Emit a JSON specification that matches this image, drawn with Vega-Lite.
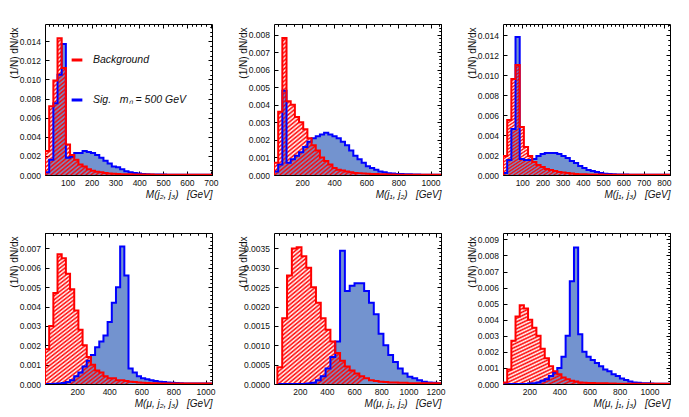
{
"$schema":"https://vega.github.io/schema/vega-lite/v6.json",
"background":"white",
"padding":{"left":8,"top":23,"right":0,"bottom":0},
"bounds":"flush",
"columns":3,
"spacing":{"row":58,"column":62},
"resolve":{"scale":{"stroke":"independent"}},
"config":{
 "view":{"stroke":"#000","strokeWidth":1},
 "font":"Liberation Sans",
 "axis":{"domain":false,"grid":false,"ticks":true,"tickColor":"#000","tickWidth":1,"tickSize":-4,"labelFont":"Liberation Sans","labelFontSize":8.5,"labelColor":"#111","labelFlush":false,"labelOverlap":false,"titleFont":"Liberation Sans","titleFontSize":10,"titleFontWeight":"normal","titleColor":"#111","zindex":1},
 "axisX":{"labelPadding":7.5,"titlePadding":2,"titleAnchor":"end","titleFontStyle":"italic"},
 "axisY":{"labelPadding":8.5,"titleAnchor":"end","titleX":-26,"titleY":3,"titleAngle":270,"titleAlign":"right","titleBaseline":"bottom"},
 "legend":{"labelFont":"Liberation Sans","labelFontStyle":"italic","labelFontSize":10.5,"labelColor":"#111","symbolType":"stroke","symbolStrokeWidth":3,"symbolSize":115,"rowPadding":27,"labelOffset":9,"padding":0},
 "area":{"fill":{"gradient":"linear","x1":0,"y1":0,"x2":0.75,"y2":0.75,"stops":[{"offset":0,"color":"rgba(255,0,0,0)"},{"offset":0.01,"color":"#ff0000"},{"offset":0.02,"color":"rgba(255,0,0,0)"},{"offset":0.03,"color":"#ff0000"},{"offset":0.04,"color":"rgba(255,0,0,0)"},{"offset":0.05,"color":"#ff0000"},{"offset":0.06,"color":"rgba(255,0,0,0)"},{"offset":0.07,"color":"#ff0000"},{"offset":0.08,"color":"rgba(255,0,0,0)"},{"offset":0.09,"color":"#ff0000"},{"offset":0.1,"color":"rgba(255,0,0,0)"},{"offset":0.11,"color":"#ff0000"},{"offset":0.12,"color":"rgba(255,0,0,0)"},{"offset":0.13,"color":"#ff0000"},{"offset":0.14,"color":"rgba(255,0,0,0)"},{"offset":0.15,"color":"#ff0000"},{"offset":0.16,"color":"rgba(255,0,0,0)"},{"offset":0.17,"color":"#ff0000"},{"offset":0.18,"color":"rgba(255,0,0,0)"},{"offset":0.19,"color":"#ff0000"},{"offset":0.2,"color":"rgba(255,0,0,0)"},{"offset":0.21,"color":"#ff0000"},{"offset":0.22,"color":"rgba(255,0,0,0)"},{"offset":0.23,"color":"#ff0000"},{"offset":0.24,"color":"rgba(255,0,0,0)"},{"offset":0.25,"color":"#ff0000"},{"offset":0.26,"color":"rgba(255,0,0,0)"},{"offset":0.27,"color":"#ff0000"},{"offset":0.28,"color":"rgba(255,0,0,0)"},{"offset":0.29,"color":"#ff0000"},{"offset":0.3,"color":"rgba(255,0,0,0)"},{"offset":0.31,"color":"#ff0000"},{"offset":0.32,"color":"rgba(255,0,0,0)"},{"offset":0.33,"color":"#ff0000"},{"offset":0.34,"color":"rgba(255,0,0,0)"},{"offset":0.35,"color":"#ff0000"},{"offset":0.36,"color":"rgba(255,0,0,0)"},{"offset":0.37,"color":"#ff0000"},{"offset":0.38,"color":"rgba(255,0,0,0)"},{"offset":0.39,"color":"#ff0000"},{"offset":0.4,"color":"rgba(255,0,0,0)"},{"offset":0.41,"color":"#ff0000"},{"offset":0.42,"color":"rgba(255,0,0,0)"},{"offset":0.43,"color":"#ff0000"},{"offset":0.44,"color":"rgba(255,0,0,0)"},{"offset":0.45,"color":"#ff0000"},{"offset":0.46,"color":"rgba(255,0,0,0)"},{"offset":0.47,"color":"#ff0000"},{"offset":0.48,"color":"rgba(255,0,0,0)"},{"offset":0.49,"color":"#ff0000"},{"offset":0.5,"color":"rgba(255,0,0,0)"},{"offset":0.51,"color":"#ff0000"},{"offset":0.52,"color":"rgba(255,0,0,0)"},{"offset":0.53,"color":"#ff0000"},{"offset":0.54,"color":"rgba(255,0,0,0)"},{"offset":0.55,"color":"#ff0000"},{"offset":0.56,"color":"rgba(255,0,0,0)"},{"offset":0.57,"color":"#ff0000"},{"offset":0.58,"color":"rgba(255,0,0,0)"},{"offset":0.59,"color":"#ff0000"},{"offset":0.6,"color":"rgba(255,0,0,0)"},{"offset":0.61,"color":"#ff0000"},{"offset":0.62,"color":"rgba(255,0,0,0)"},{"offset":0.63,"color":"#ff0000"},{"offset":0.64,"color":"rgba(255,0,0,0)"},{"offset":0.65,"color":"#ff0000"},{"offset":0.66,"color":"rgba(255,0,0,0)"},{"offset":0.67,"color":"#ff0000"},{"offset":0.68,"color":"rgba(255,0,0,0)"},{"offset":0.69,"color":"#ff0000"},{"offset":0.7,"color":"rgba(255,0,0,0)"},{"offset":0.71,"color":"#ff0000"},{"offset":0.72,"color":"rgba(255,0,0,0)"},{"offset":0.73,"color":"#ff0000"},{"offset":0.74,"color":"rgba(255,0,0,0)"},{"offset":0.75,"color":"#ff0000"},{"offset":0.76,"color":"rgba(255,0,0,0)"},{"offset":0.77,"color":"#ff0000"},{"offset":0.78,"color":"rgba(255,0,0,0)"},{"offset":0.79,"color":"#ff0000"},{"offset":0.8,"color":"rgba(255,0,0,0)"},{"offset":0.81,"color":"#ff0000"},{"offset":0.82,"color":"rgba(255,0,0,0)"},{"offset":0.83,"color":"#ff0000"},{"offset":0.84,"color":"rgba(255,0,0,0)"},{"offset":0.85,"color":"#ff0000"},{"offset":0.86,"color":"rgba(255,0,0,0)"},{"offset":0.87,"color":"#ff0000"},{"offset":0.88,"color":"rgba(255,0,0,0)"},{"offset":0.89,"color":"#ff0000"},{"offset":0.9,"color":"rgba(255,0,0,0)"},{"offset":0.91,"color":"#ff0000"},{"offset":0.92,"color":"rgba(255,0,0,0)"},{"offset":0.93,"color":"#ff0000"},{"offset":0.94,"color":"rgba(255,0,0,0)"},{"offset":0.95,"color":"#ff0000"},{"offset":0.96,"color":"rgba(255,0,0,0)"},{"offset":0.97,"color":"#ff0000"},{"offset":0.98,"color":"rgba(255,0,0,0)"},{"offset":0.99,"color":"#ff0000"},{"offset":1,"color":"rgba(255,0,0,0)"}]}}
},
"concat":[
{
 "width":167,"height":151,
 "data":{"values":[
{"i":0,"m":5,"bkg":0,"sig":0},
{"i":1,"m":5,"bkg":0.0025,"sig":0.0003},
{"i":2,"m":22.5,"bkg":0.0072,"sig":0.0016},
{"i":3,"m":40,"bkg":0.0099,"sig":0.0075},
{"i":4,"m":57.5,"bkg":0.0143,"sig":0.0105},
{"i":5,"m":75,"bkg":0.0112,"sig":0.0137},
{"i":6,"m":92.5,"bkg":0.0032,"sig":0.0018},
{"i":7,"m":110,"bkg":0.0021,"sig":0.0019},
{"i":8,"m":127.5,"bkg":0.0016,"sig":0.0023},
{"i":9,"m":145,"bkg":0.0011,"sig":0.0023},
{"i":10,"m":162.5,"bkg":0.0009,"sig":0.0025},
{"i":11,"m":180,"bkg":0.0006,"sig":0.0024},
{"i":12,"m":197.5,"bkg":0.00045,"sig":0.0023},
{"i":13,"m":215,"bkg":0.00035,"sig":0.0021},
{"i":14,"m":232.5,"bkg":0.00028,"sig":0.0018},
{"i":15,"m":250,"bkg":0.0002,"sig":0.0015},
{"i":16,"m":267.5,"bkg":0.00016,"sig":0.0012},
{"i":17,"m":285,"bkg":0.00013,"sig":0.0009},
{"i":18,"m":302.5,"bkg":0.0001,"sig":0.0008},
{"i":19,"m":320,"bkg":0.00009,"sig":0.0006},
{"i":20,"m":337.5,"bkg":0.00008,"sig":0.0004},
{"i":21,"m":355,"bkg":0.00007,"sig":0.0003},
{"i":22,"m":372.5,"bkg":0.00006,"sig":0.0002},
{"i":23,"m":390,"bkg":0.00005,"sig":0.00015},
{"i":24,"m":407.5,"bkg":0.00005,"sig":0.0001},
{"i":25,"m":425,"bkg":0.00004,"sig":0.00008},
{"i":26,"m":442.5,"bkg":0.00004,"sig":0.00006},
{"i":27,"m":460,"bkg":0.00003,"sig":0.00005},
{"i":28,"m":477.5,"bkg":0.00003,"sig":0.00004},
{"i":29,"m":495,"bkg":0.00003,"sig":0.00004},
{"i":30,"m":512.5,"bkg":0.00002,"sig":0.00003},
{"i":31,"m":530,"bkg":0.00002,"sig":0.00002},
{"i":32,"m":547.5,"bkg":0.00002,"sig":0.00002},
{"i":33,"m":565,"bkg":0.00002,"sig":0.00002},
{"i":34,"m":582.5,"bkg":0.00002,"sig":0.00002},
{"i":35,"m":600,"bkg":0.00002,"sig":0.00002},
{"i":36,"m":617.5,"bkg":0.00002,"sig":0.00002},
{"i":37,"m":635,"bkg":0.00002,"sig":0.00002},
{"i":38,"m":652.5,"bkg":0.00002,"sig":0.00002},
{"i":39,"m":670,"bkg":0.00002,"sig":0.00002},
{"i":40,"m":687.5,"bkg":0.00002,"sig":0.00002},
{"i":41,"m":705,"bkg":0,"sig":0}]},
 "resolve":{"axis":{"x":"independent","y":"independent"}},
 "layer":[
  {"transform":[{"filter":"datum.i > 0"}],
   "mark":{"type":"area","interpolate":"step-after","fill":"#7393cf","clip":true},
   "encoding":{
    "x":{"field":"m","type":"quantitative","scale":{"domain":[5,705],"nice":false,"zero":false},"axis":{"values":[100,200,300,400,500,600,700],"format":"d","title":"M(j₂, j₃)\u00a0\u00a0\u00a0[GeV]"}},
    "y":{"field":"sig","type":"quantitative","stack":null,"scale":{"domain":[0,0.0158],"nice":false},"axis":{"values":[0,0.002,0.004,0.006,0.008,0.01,0.012,0.014],"format":".3f","title":"(1/N) dN/dx"}}}},
  {"transform":[{"filter":"datum.i > 0"}],
   "mark":{"type":"area","interpolate":"step-after","clip":true},
   "encoding":{
    "x":{"field":"m","type":"quantitative","scale":{"domain":[5,705],"nice":false,"zero":false},"axis":{"tickCount":35,"tickSize":-2,"labels":false,"title":null}},
    "y":{"field":"bkg","type":"quantitative","stack":null,"scale":{"domain":[0,0.0158],"nice":false},"axis":{"tickCount":32,"tickSize":-2,"labels":false,"title":null}}}},
  {"mark":{"type":"line","interpolate":"step-after","strokeWidth":2,"clip":true},
   "encoding":{
    "x":{"field":"m","type":"quantitative","scale":{"domain":[5,705],"nice":false,"zero":false},"axis":{"orient":"top","values":[100,200,300,400,500,600,700],"labels":false,"title":null}},
    "y":{"field":"sig","type":"quantitative","scale":{"domain":[0,0.0158],"nice":false},"axis":{"orient":"right","values":[0,0.002,0.004,0.006,0.008,0.01,0.012,0.014],"labels":false,"title":null}},
    "order":{"field":"i","type":"quantitative"},
    "stroke":{"datum":"Sig.\u00a0\u00a0\u00a0mₙ = 500\u00a0GeV","type":"nominal","scale":{"domain":["Background","Sig.\u00a0\u00a0\u00a0mₙ = 500\u00a0GeV"],"range":["#ff0000","#0000ff"]},"legend":{"title":null,"orient":"none","legendX":25,"legendY":29,"direction":"vertical"}}}},
  {"mark":{"type":"line","interpolate":"step-after","strokeWidth":2,"clip":true},
   "encoding":{
    "x":{"field":"m","type":"quantitative","scale":{"domain":[5,705],"nice":false,"zero":false},"axis":{"orient":"top","tickCount":35,"tickSize":-2,"labels":false,"title":null}},
    "y":{"field":"bkg","type":"quantitative","scale":{"domain":[0,0.0158],"nice":false},"axis":{"orient":"right","tickCount":32,"tickSize":-2,"labels":false,"title":null}},
    "order":{"field":"i","type":"quantitative"},
    "stroke":{"datum":"Background","type":"nominal","legend":{"title":null,"orient":"none","legendX":25,"legendY":29,"direction":"vertical"}}}}
 ]
},
{
 "width":167,"height":151,
 "data":{"values":[
{"i":0,"m":25,"bkg":0,"sig":0},
{"i":1,"m":25,"bkg":0.0007,"sig":0.0002},
{"i":2,"m":51,"bkg":0.0036,"sig":0.0006},
{"i":3,"m":77,"bkg":0.0078,"sig":0.0048},
{"i":4,"m":103,"bkg":0.0042,"sig":0.0007},
{"i":5,"m":129,"bkg":0.0040,"sig":0.0009},
{"i":6,"m":155,"bkg":0.0033,"sig":0.0011},
{"i":7,"m":181,"bkg":0.0030,"sig":0.0013},
{"i":8,"m":207,"bkg":0.0026,"sig":0.0016},
{"i":9,"m":233,"bkg":0.0021,"sig":0.0019},
{"i":10,"m":259,"bkg":0.0017,"sig":0.0021},
{"i":11,"m":285,"bkg":0.0014,"sig":0.0022},
{"i":12,"m":311,"bkg":0.0010,"sig":0.0023},
{"i":13,"m":337,"bkg":0.0008,"sig":0.0024},
{"i":14,"m":363,"bkg":0.0006,"sig":0.0023},
{"i":15,"m":389,"bkg":0.0004,"sig":0.0022},
{"i":16,"m":415,"bkg":0.0003,"sig":0.0021},
{"i":17,"m":441,"bkg":0.00025,"sig":0.0019},
{"i":18,"m":467,"bkg":0.0002,"sig":0.0017},
{"i":19,"m":493,"bkg":0.00015,"sig":0.0014},
{"i":20,"m":519,"bkg":0.00012,"sig":0.0011},
{"i":21,"m":545,"bkg":0.0001,"sig":0.0009},
{"i":22,"m":571,"bkg":0.00008,"sig":0.0007},
{"i":23,"m":597,"bkg":0.00007,"sig":0.0005},
{"i":24,"m":623,"bkg":0.00006,"sig":0.0004},
{"i":25,"m":649,"bkg":0.00005,"sig":0.0003},
{"i":26,"m":675,"bkg":0.00004,"sig":0.0002},
{"i":27,"m":701,"bkg":0.00004,"sig":0.00015},
{"i":28,"m":727,"bkg":0.00003,"sig":0.0001},
{"i":29,"m":753,"bkg":0.00003,"sig":0.00008},
{"i":30,"m":779,"bkg":0.00002,"sig":0.00006},
{"i":31,"m":805,"bkg":0.00002,"sig":0.00005},
{"i":32,"m":831,"bkg":0.00002,"sig":0.00004},
{"i":33,"m":857,"bkg":0.00002,"sig":0.00004},
{"i":34,"m":883,"bkg":0.00002,"sig":0.00003},
{"i":35,"m":909,"bkg":0.00002,"sig":0.00003},
{"i":36,"m":935,"bkg":0.00002,"sig":0.00002},
{"i":37,"m":961,"bkg":0.00002,"sig":0.00002},
{"i":38,"m":987,"bkg":0.00002,"sig":0.00002},
{"i":39,"m":1013,"bkg":0.00002,"sig":0.00002},
{"i":40,"m":1039,"bkg":0.00002,"sig":0.00002},
{"i":41,"m":1065,"bkg":0,"sig":0}]},
 "resolve":{"axis":{"x":"independent","y":"independent"}},
 "layer":[
  {"transform":[{"filter":"datum.i > 0"}],
   "mark":{"type":"area","interpolate":"step-after","fill":"#7393cf","clip":true},
   "encoding":{
    "x":{"field":"m","type":"quantitative","scale":{"domain":[25,1065],"nice":false,"zero":false},"axis":{"values":[200,400,600,800,1000],"format":"d","title":"M(j₁, j₂)\u00a0\u00a0\u00a0[GeV]"}},
    "y":{"field":"sig","type":"quantitative","stack":null,"scale":{"domain":[0,0.0086],"nice":false},"axis":{"values":[0,0.001,0.002,0.003,0.004,0.005,0.006,0.007,0.008],"format":".3f","title":"(1/N) dN/dx"}}}},
  {"transform":[{"filter":"datum.i > 0"}],
   "mark":{"type":"area","interpolate":"step-after","clip":true},
   "encoding":{
    "x":{"field":"m","type":"quantitative","scale":{"domain":[25,1065],"nice":false,"zero":false},"axis":{"tickCount":21,"tickSize":-2,"labels":false,"title":null}},
    "y":{"field":"bkg","type":"quantitative","stack":null,"scale":{"domain":[0,0.0086],"nice":false},"axis":{"tickCount":43,"tickSize":-2,"labels":false,"title":null}}}},
  {"mark":{"type":"line","interpolate":"step-after","stroke":"#0000ff","strokeWidth":2,"clip":true},
   "encoding":{
    "x":{"field":"m","type":"quantitative","scale":{"domain":[25,1065],"nice":false,"zero":false},"axis":{"orient":"top","values":[200,400,600,800,1000],"labels":false,"title":null}},
    "y":{"field":"sig","type":"quantitative","scale":{"domain":[0,0.0086],"nice":false},"axis":{"orient":"right","values":[0,0.001,0.002,0.003,0.004,0.005,0.006,0.007,0.008],"labels":false,"title":null}},
    "order":{"field":"i","type":"quantitative"}}},
  {"mark":{"type":"line","interpolate":"step-after","stroke":"#ff0000","strokeWidth":2,"clip":true},
   "encoding":{
    "x":{"field":"m","type":"quantitative","scale":{"domain":[25,1065],"nice":false,"zero":false},"axis":{"orient":"top","tickCount":21,"tickSize":-2,"labels":false,"title":null}},
    "y":{"field":"bkg","type":"quantitative","scale":{"domain":[0,0.0086],"nice":false},"axis":{"orient":"right","tickCount":43,"tickSize":-2,"labels":false,"title":null}},
    "order":{"field":"i","type":"quantitative"}}}
 ]
},
{
 "width":167,"height":151,
 "data":{"values":[
{"i":0,"m":5,"bkg":0,"sig":0},
{"i":1,"m":5,"bkg":0.0019,"sig":0.0002},
{"i":2,"m":25.625,"bkg":0.0055,"sig":0.0015},
{"i":3,"m":46.25,"bkg":0.0096,"sig":0.0046},
{"i":4,"m":66.875,"bkg":0.0110,"sig":0.0138},
{"i":5,"m":87.5,"bkg":0.0048,"sig":0.0016},
{"i":6,"m":108.125,"bkg":0.0028,"sig":0.0015},
{"i":7,"m":128.75,"bkg":0.0019,"sig":0.0015},
{"i":8,"m":149.375,"bkg":0.0013,"sig":0.0016},
{"i":9,"m":170,"bkg":0.0010,"sig":0.0019},
{"i":10,"m":190.625,"bkg":0.0008,"sig":0.0021},
{"i":11,"m":211.25,"bkg":0.0006,"sig":0.0022},
{"i":12,"m":231.875,"bkg":0.0005,"sig":0.0022},
{"i":13,"m":252.5,"bkg":0.0004,"sig":0.0022},
{"i":14,"m":273.125,"bkg":0.0003,"sig":0.0021},
{"i":15,"m":293.75,"bkg":0.00025,"sig":0.0019},
{"i":16,"m":314.375,"bkg":0.0002,"sig":0.0017},
{"i":17,"m":335,"bkg":0.00015,"sig":0.0014},
{"i":18,"m":355.625,"bkg":0.0001,"sig":0.0012},
{"i":19,"m":376.25,"bkg":0.00008,"sig":0.0009},
{"i":20,"m":396.875,"bkg":0.00007,"sig":0.0007},
{"i":21,"m":417.5,"bkg":0.00006,"sig":0.0005},
{"i":22,"m":438.125,"bkg":0.00005,"sig":0.0004},
{"i":23,"m":458.75,"bkg":0.00004,"sig":0.0003},
{"i":24,"m":479.375,"bkg":0.00004,"sig":0.0002},
{"i":25,"m":500,"bkg":0.00003,"sig":0.00012},
{"i":26,"m":520.625,"bkg":0.00003,"sig":0.0001},
{"i":27,"m":541.25,"bkg":0.00002,"sig":0.00008},
{"i":28,"m":561.875,"bkg":0.00002,"sig":0.00006},
{"i":29,"m":582.5,"bkg":0.00002,"sig":0.00005},
{"i":30,"m":603.125,"bkg":0.00002,"sig":0.00004},
{"i":31,"m":623.75,"bkg":0.00002,"sig":0.00003},
{"i":32,"m":644.375,"bkg":0.00002,"sig":0.00002},
{"i":33,"m":665,"bkg":0.00002,"sig":0.00002},
{"i":34,"m":685.625,"bkg":0.00002,"sig":0.00002},
{"i":35,"m":706.25,"bkg":0.00002,"sig":0.00002},
{"i":36,"m":726.875,"bkg":0.00002,"sig":0.00002},
{"i":37,"m":747.5,"bkg":0.00002,"sig":0.00002},
{"i":38,"m":768.125,"bkg":0.00002,"sig":0.00002},
{"i":39,"m":788.75,"bkg":0.00002,"sig":0.00002},
{"i":40,"m":809.375,"bkg":0.00002,"sig":0.00002},
{"i":41,"m":830,"bkg":0,"sig":0}]},
 "resolve":{"axis":{"x":"independent","y":"independent"}},
 "layer":[
  {"transform":[{"filter":"datum.i > 0"}],
   "mark":{"type":"area","interpolate":"step-after","fill":"#7393cf","clip":true},
   "encoding":{
    "x":{"field":"m","type":"quantitative","scale":{"domain":[5,830],"nice":false,"zero":false},"axis":{"values":[100,200,300,400,500,600,700,800],"format":"d","title":"M(j₁, j₃)\u00a0\u00a0\u00a0[GeV]"}},
    "y":{"field":"sig","type":"quantitative","stack":null,"scale":{"domain":[0,0.0151],"nice":false},"axis":{"values":[0,0.002,0.004,0.006,0.008,0.01,0.012,0.014],"format":".3f","title":"(1/N) dN/dx"}}}},
  {"transform":[{"filter":"datum.i > 0"}],
   "mark":{"type":"area","interpolate":"step-after","clip":true},
   "encoding":{
    "x":{"field":"m","type":"quantitative","scale":{"domain":[5,830],"nice":false,"zero":false},"axis":{"tickCount":41,"tickSize":-2,"labels":false,"title":null}},
    "y":{"field":"bkg","type":"quantitative","stack":null,"scale":{"domain":[0,0.0151],"nice":false},"axis":{"tickCount":30,"tickSize":-2,"labels":false,"title":null}}}},
  {"mark":{"type":"line","interpolate":"step-after","stroke":"#0000ff","strokeWidth":2,"clip":true},
   "encoding":{
    "x":{"field":"m","type":"quantitative","scale":{"domain":[5,830],"nice":false,"zero":false},"axis":{"orient":"top","values":[100,200,300,400,500,600,700,800],"labels":false,"title":null}},
    "y":{"field":"sig","type":"quantitative","scale":{"domain":[0,0.0151],"nice":false},"axis":{"orient":"right","values":[0,0.002,0.004,0.006,0.008,0.01,0.012,0.014],"labels":false,"title":null}},
    "order":{"field":"i","type":"quantitative"}}},
  {"mark":{"type":"line","interpolate":"step-after","stroke":"#ff0000","strokeWidth":2,"clip":true},
   "encoding":{
    "x":{"field":"m","type":"quantitative","scale":{"domain":[5,830],"nice":false,"zero":false},"axis":{"orient":"top","tickCount":41,"tickSize":-2,"labels":false,"title":null}},
    "y":{"field":"bkg","type":"quantitative","scale":{"domain":[0,0.0151],"nice":false},"axis":{"orient":"right","tickCount":30,"tickSize":-2,"labels":false,"title":null}},
    "order":{"field":"i","type":"quantitative"}}}
 ]
},
{
 "width":167,"height":151,
 "data":{"values":[
{"i":0,"m":0,"bkg":0,"sig":0},
{"i":1,"m":0,"bkg":0.0018,"sig":0},
{"i":2,"m":26,"bkg":0.0030,"sig":0},
{"i":3,"m":52,"bkg":0.0047,"sig":0.00001},
{"i":4,"m":78,"bkg":0.0067,"sig":0.00002},
{"i":5,"m":104,"bkg":0.0065,"sig":0.00005},
{"i":6,"m":130,"bkg":0.0057,"sig":0.0001},
{"i":7,"m":156,"bkg":0.0049,"sig":0.0002},
{"i":8,"m":182,"bkg":0.0038,"sig":0.0004},
{"i":9,"m":208,"bkg":0.0028,"sig":0.0006},
{"i":10,"m":234,"bkg":0.0020,"sig":0.0009},
{"i":11,"m":260,"bkg":0.0014,"sig":0.0012},
{"i":12,"m":286,"bkg":0.0010,"sig":0.0015},
{"i":13,"m":312,"bkg":0.0007,"sig":0.0019},
{"i":14,"m":338,"bkg":0.0006,"sig":0.0022},
{"i":15,"m":364,"bkg":0.0004,"sig":0.0025},
{"i":16,"m":390,"bkg":0.0003,"sig":0.0032},
{"i":17,"m":416,"bkg":0.0003,"sig":0.0042},
{"i":18,"m":442,"bkg":0.0002,"sig":0.0050},
{"i":19,"m":468,"bkg":0.0002,"sig":0.0071},
{"i":20,"m":494,"bkg":0.00015,"sig":0.0056},
{"i":21,"m":520,"bkg":0.00012,"sig":0.0008},
{"i":22,"m":546,"bkg":0.0001,"sig":0.0006},
{"i":23,"m":572,"bkg":0.00008,"sig":0.0004},
{"i":24,"m":598,"bkg":0.00006,"sig":0.0003},
{"i":25,"m":624,"bkg":0.00005,"sig":0.00025},
{"i":26,"m":650,"bkg":0.00004,"sig":0.0002},
{"i":27,"m":676,"bkg":0.00004,"sig":0.00015},
{"i":28,"m":702,"bkg":0.00003,"sig":0.00012},
{"i":29,"m":728,"bkg":0.00003,"sig":0.0001},
{"i":30,"m":754,"bkg":0.00002,"sig":0.00008},
{"i":31,"m":780,"bkg":0.00002,"sig":0.00006},
{"i":32,"m":806,"bkg":0.00002,"sig":0.00005},
{"i":33,"m":832,"bkg":0.00002,"sig":0.00004},
{"i":34,"m":858,"bkg":0.00002,"sig":0.00003},
{"i":35,"m":884,"bkg":0.00002,"sig":0.00002},
{"i":36,"m":910,"bkg":0.00002,"sig":0.00002},
{"i":37,"m":936,"bkg":0.00002,"sig":0.00002},
{"i":38,"m":962,"bkg":0.00002,"sig":0.00002},
{"i":39,"m":988,"bkg":0.00002,"sig":0.00002},
{"i":40,"m":1014,"bkg":0.00002,"sig":0.00002},
{"i":41,"m":1040,"bkg":0,"sig":0}]},
 "resolve":{"axis":{"x":"independent","y":"independent"}},
 "layer":[
  {"transform":[{"filter":"datum.i > 0"}],
   "mark":{"type":"area","interpolate":"step-after","fill":"#7393cf","clip":true},
   "encoding":{
    "x":{"field":"m","type":"quantitative","scale":{"domain":[0,1040],"nice":false,"zero":false},"axis":{"values":[200,400,600,800,1000],"format":"d","title":"M(μ, j₂, j₃)\u00a0\u00a0\u00a0[GeV]"}},
    "y":{"field":"sig","type":"quantitative","stack":null,"scale":{"domain":[0,0.0078],"nice":false},"axis":{"values":[0,0.001,0.002,0.003,0.004,0.005,0.006,0.007],"format":".3f","title":"(1/N) dN/dx"}}}},
  {"transform":[{"filter":"datum.i > 0"}],
   "mark":{"type":"area","interpolate":"step-after","clip":true},
   "encoding":{
    "x":{"field":"m","type":"quantitative","scale":{"domain":[0,1040],"nice":false,"zero":false},"axis":{"tickCount":21,"tickSize":-2,"labels":false,"title":null}},
    "y":{"field":"bkg","type":"quantitative","stack":null,"scale":{"domain":[0,0.0078],"nice":false},"axis":{"tickCount":39,"tickSize":-2,"labels":false,"title":null}}}},
  {"mark":{"type":"line","interpolate":"step-after","stroke":"#0000ff","strokeWidth":2,"clip":true},
   "encoding":{
    "x":{"field":"m","type":"quantitative","scale":{"domain":[0,1040],"nice":false,"zero":false},"axis":{"orient":"top","values":[200,400,600,800,1000],"labels":false,"title":null}},
    "y":{"field":"sig","type":"quantitative","scale":{"domain":[0,0.0078],"nice":false},"axis":{"orient":"right","values":[0,0.001,0.002,0.003,0.004,0.005,0.006,0.007],"labels":false,"title":null}},
    "order":{"field":"i","type":"quantitative"}}},
  {"mark":{"type":"line","interpolate":"step-after","stroke":"#ff0000","strokeWidth":2,"clip":true},
   "encoding":{
    "x":{"field":"m","type":"quantitative","scale":{"domain":[0,1040],"nice":false,"zero":false},"axis":{"orient":"top","tickCount":21,"tickSize":-2,"labels":false,"title":null}},
    "y":{"field":"bkg","type":"quantitative","scale":{"domain":[0,0.0078],"nice":false},"axis":{"orient":"right","tickCount":39,"tickSize":-2,"labels":false,"title":null}},
    "order":{"field":"i","type":"quantitative"}}}
 ]
},
{
 "width":167,"height":151,
 "data":{"values":[
{"i":0,"m":35,"bkg":0,"sig":0},
{"i":1,"m":35,"bkg":0.00043,"sig":0},
{"i":2,"m":70.5,"bkg":0.0017,"sig":0},
{"i":3,"m":106,"bkg":0.0028,"sig":0},
{"i":4,"m":141.5,"bkg":0.0035,"sig":0},
{"i":5,"m":177,"bkg":0.00353,"sig":0},
{"i":6,"m":212.5,"bkg":0.0033,"sig":0},
{"i":7,"m":248,"bkg":0.0030,"sig":0.00001},
{"i":8,"m":283.5,"bkg":0.0025,"sig":0.00003},
{"i":9,"m":319,"bkg":0.0021,"sig":0.0001},
{"i":10,"m":354.5,"bkg":0.0017,"sig":0.0002},
{"i":11,"m":390,"bkg":0.0014,"sig":0.0004},
{"i":12,"m":425.5,"bkg":0.0011,"sig":0.0007},
{"i":13,"m":461,"bkg":0.0008,"sig":0.0011},
{"i":14,"m":496.5,"bkg":0.0006,"sig":0.00344},
{"i":15,"m":532,"bkg":0.00045,"sig":0.0024},
{"i":16,"m":567.5,"bkg":0.00035,"sig":0.00254},
{"i":17,"m":603,"bkg":0.00027,"sig":0.0026},
{"i":18,"m":638.5,"bkg":0.0002,"sig":0.0026},
{"i":19,"m":674,"bkg":0.00015,"sig":0.0024},
{"i":20,"m":709.5,"bkg":0.0001,"sig":0.0021},
{"i":21,"m":745,"bkg":0.00008,"sig":0.0018},
{"i":22,"m":780.5,"bkg":0.00006,"sig":0.0013},
{"i":23,"m":816,"bkg":0.00005,"sig":0.0010},
{"i":24,"m":851.5,"bkg":0.00004,"sig":0.00075},
{"i":25,"m":887,"bkg":0.00004,"sig":0.00057},
{"i":26,"m":922.5,"bkg":0.00003,"sig":0.0004},
{"i":27,"m":958,"bkg":0.00003,"sig":0.00027},
{"i":28,"m":993.5,"bkg":0.00002,"sig":0.00019},
{"i":29,"m":1029,"bkg":0.00002,"sig":0.00015},
{"i":30,"m":1064.5,"bkg":0.00002,"sig":0.0001},
{"i":31,"m":1100,"bkg":0.00002,"sig":0.00006},
{"i":32,"m":1135.5,"bkg":0.00002,"sig":0.00004},
{"i":33,"m":1171,"bkg":0.00002,"sig":0.00003},
{"i":34,"m":1206.5,"bkg":0.00002,"sig":0.00002},
{"i":35,"m":1240,"bkg":0,"sig":0}]},
 "resolve":{"axis":{"x":"independent","y":"independent"}},
 "layer":[
  {"transform":[{"filter":"datum.i > 0"}],
   "mark":{"type":"area","interpolate":"step-after","fill":"#7393cf","clip":true},
   "encoding":{
    "x":{"field":"m","type":"quantitative","scale":{"domain":[10,1240],"nice":false,"zero":false},"axis":{"values":[200,400,600,800,1000,1200],"format":"d","title":"M(μ, j₁, j₂)\u00a0\u00a0\u00a0[GeV]"}},
    "y":{"field":"sig","type":"quantitative","stack":null,"scale":{"domain":[0,0.0039],"nice":false},"axis":{"values":[0,0.0005,0.001,0.0015,0.002,0.0025,0.003,0.0035],"format":".4f","title":"(1/N) dN/dx"}}}},
  {"transform":[{"filter":"datum.i > 0"}],
   "mark":{"type":"area","interpolate":"step-after","clip":true},
   "encoding":{
    "x":{"field":"m","type":"quantitative","scale":{"domain":[10,1240],"nice":false,"zero":false},"axis":{"tickCount":25,"tickSize":-2,"labels":false,"title":null}},
    "y":{"field":"bkg","type":"quantitative","stack":null,"scale":{"domain":[0,0.0039],"nice":false},"axis":{"tickCount":39,"tickSize":-2,"labels":false,"title":null}}}},
  {"mark":{"type":"line","interpolate":"step-after","stroke":"#0000ff","strokeWidth":2,"clip":true},
   "encoding":{
    "x":{"field":"m","type":"quantitative","scale":{"domain":[10,1240],"nice":false,"zero":false},"axis":{"orient":"top","values":[200,400,600,800,1000,1200],"labels":false,"title":null}},
    "y":{"field":"sig","type":"quantitative","scale":{"domain":[0,0.0039],"nice":false},"axis":{"orient":"right","values":[0,0.0005,0.001,0.0015,0.002,0.0025,0.003,0.0035],"labels":false,"title":null}},
    "order":{"field":"i","type":"quantitative"}}},
  {"mark":{"type":"line","interpolate":"step-after","stroke":"#ff0000","strokeWidth":2,"clip":true},
   "encoding":{
    "x":{"field":"m","type":"quantitative","scale":{"domain":[10,1240],"nice":false,"zero":false},"axis":{"orient":"top","tickCount":25,"tickSize":-2,"labels":false,"title":null}},
    "y":{"field":"bkg","type":"quantitative","scale":{"domain":[0,0.0039],"nice":false},"axis":{"orient":"right","tickCount":39,"tickSize":-2,"labels":false,"title":null}},
    "order":{"field":"i","type":"quantitative"}}}
 ]
},
{
 "width":167,"height":151,
 "data":{"values":[
{"i":0,"m":24,"bkg":0,"sig":0},
{"i":1,"m":24,"bkg":0.0001,"sig":0},
{"i":2,"m":51.8,"bkg":0.0009,"sig":0},
{"i":3,"m":79.6,"bkg":0.0027,"sig":0},
{"i":4,"m":107.4,"bkg":0.0042,"sig":0},
{"i":5,"m":135.2,"bkg":0.0049,"sig":0},
{"i":6,"m":163,"bkg":0.0047,"sig":0},
{"i":7,"m":190.8,"bkg":0.0040,"sig":0.00003},
{"i":8,"m":218.6,"bkg":0.0035,"sig":0.00005},
{"i":9,"m":246.4,"bkg":0.0030,"sig":0.0001},
{"i":10,"m":274.2,"bkg":0.0022,"sig":0.0002},
{"i":11,"m":302,"bkg":0.0016,"sig":0.0003},
{"i":12,"m":329.8,"bkg":0.0011,"sig":0.0005},
{"i":13,"m":357.6,"bkg":0.0008,"sig":0.0007},
{"i":14,"m":385.4,"bkg":0.0006,"sig":0.0010},
{"i":15,"m":413.2,"bkg":0.0004,"sig":0.0017},
{"i":16,"m":441,"bkg":0.0003,"sig":0.0030},
{"i":17,"m":468.8,"bkg":0.0002,"sig":0.0064},
{"i":18,"m":496.6,"bkg":0.00015,"sig":0.0085},
{"i":19,"m":524.4,"bkg":0.0001,"sig":0.0031},
{"i":20,"m":552.2,"bkg":0.00008,"sig":0.0020},
{"i":21,"m":580,"bkg":0.00007,"sig":0.0017},
{"i":22,"m":607.8,"bkg":0.00006,"sig":0.0015},
{"i":23,"m":635.6,"bkg":0.00005,"sig":0.0013},
{"i":24,"m":663.4,"bkg":0.00004,"sig":0.0011},
{"i":25,"m":691.2,"bkg":0.00004,"sig":0.0009},
{"i":26,"m":719,"bkg":0.00003,"sig":0.0008},
{"i":27,"m":746.8,"bkg":0.00003,"sig":0.0006},
{"i":28,"m":774.6,"bkg":0.00002,"sig":0.0005},
{"i":29,"m":802.4,"bkg":0.00002,"sig":0.00035},
{"i":30,"m":830.2,"bkg":0.00002,"sig":0.00025},
{"i":31,"m":858,"bkg":0.00002,"sig":0.00015},
{"i":32,"m":885.8,"bkg":0.00002,"sig":0.0001},
{"i":33,"m":913.6,"bkg":0.00002,"sig":0.00008},
{"i":34,"m":941.4,"bkg":0.00002,"sig":0.00005},
{"i":35,"m":969.2,"bkg":0.00002,"sig":0.00004},
{"i":36,"m":997,"bkg":0.00002,"sig":0.00003},
{"i":37,"m":1024.8,"bkg":0.00002,"sig":0.00002},
{"i":38,"m":1052.6,"bkg":0.00002,"sig":0.00002},
{"i":39,"m":1080.4,"bkg":0.00002,"sig":0.00002},
{"i":40,"m":1108.2,"bkg":0.00002,"sig":0.00002},
{"i":41,"m":1136,"bkg":0,"sig":0}]},
 "resolve":{"axis":{"x":"independent","y":"independent"}},
 "layer":[
  {"transform":[{"filter":"datum.i > 0"}],
   "mark":{"type":"area","interpolate":"step-after","fill":"#7393cf","clip":true},
   "encoding":{
    "x":{"field":"m","type":"quantitative","scale":{"domain":[24,1136],"nice":false,"zero":false},"axis":{"values":[200,400,600,800,1000],"format":"d","title":"M(μ, j₁, j₃)\u00a0\u00a0\u00a0[GeV]"}},
    "y":{"field":"sig","type":"quantitative","stack":null,"scale":{"domain":[0,0.0094],"nice":false},"axis":{"values":[0,0.001,0.002,0.003,0.004,0.005,0.006,0.007,0.008,0.009],"format":".3f","title":"(1/N) dN/dx"}}}},
  {"transform":[{"filter":"datum.i > 0"}],
   "mark":{"type":"area","interpolate":"step-after","clip":true,"fill":{"gradient":"linear","x1":0,"y1":0,"x2":1.12,"y2":1.12,"stops":[{"offset":0,"color":"rgba(255,0,0,0)"},{"offset":0.01,"color":"#ff0000"},{"offset":0.02,"color":"rgba(255,0,0,0)"},{"offset":0.03,"color":"#ff0000"},{"offset":0.04,"color":"rgba(255,0,0,0)"},{"offset":0.05,"color":"#ff0000"},{"offset":0.06,"color":"rgba(255,0,0,0)"},{"offset":0.07,"color":"#ff0000"},{"offset":0.08,"color":"rgba(255,0,0,0)"},{"offset":0.09,"color":"#ff0000"},{"offset":0.1,"color":"rgba(255,0,0,0)"},{"offset":0.11,"color":"#ff0000"},{"offset":0.12,"color":"rgba(255,0,0,0)"},{"offset":0.13,"color":"#ff0000"},{"offset":0.14,"color":"rgba(255,0,0,0)"},{"offset":0.15,"color":"#ff0000"},{"offset":0.16,"color":"rgba(255,0,0,0)"},{"offset":0.17,"color":"#ff0000"},{"offset":0.18,"color":"rgba(255,0,0,0)"},{"offset":0.19,"color":"#ff0000"},{"offset":0.2,"color":"rgba(255,0,0,0)"},{"offset":0.21,"color":"#ff0000"},{"offset":0.22,"color":"rgba(255,0,0,0)"},{"offset":0.23,"color":"#ff0000"},{"offset":0.24,"color":"rgba(255,0,0,0)"},{"offset":0.25,"color":"#ff0000"},{"offset":0.26,"color":"rgba(255,0,0,0)"},{"offset":0.27,"color":"#ff0000"},{"offset":0.28,"color":"rgba(255,0,0,0)"},{"offset":0.29,"color":"#ff0000"},{"offset":0.3,"color":"rgba(255,0,0,0)"},{"offset":0.31,"color":"#ff0000"},{"offset":0.32,"color":"rgba(255,0,0,0)"},{"offset":0.33,"color":"#ff0000"},{"offset":0.34,"color":"rgba(255,0,0,0)"},{"offset":0.35,"color":"#ff0000"},{"offset":0.36,"color":"rgba(255,0,0,0)"},{"offset":0.37,"color":"#ff0000"},{"offset":0.38,"color":"rgba(255,0,0,0)"},{"offset":0.39,"color":"#ff0000"},{"offset":0.4,"color":"rgba(255,0,0,0)"},{"offset":0.41,"color":"#ff0000"},{"offset":0.42,"color":"rgba(255,0,0,0)"},{"offset":0.43,"color":"#ff0000"},{"offset":0.44,"color":"rgba(255,0,0,0)"},{"offset":0.45,"color":"#ff0000"},{"offset":0.46,"color":"rgba(255,0,0,0)"},{"offset":0.47,"color":"#ff0000"},{"offset":0.48,"color":"rgba(255,0,0,0)"},{"offset":0.49,"color":"#ff0000"},{"offset":0.5,"color":"rgba(255,0,0,0)"},{"offset":0.51,"color":"#ff0000"},{"offset":0.52,"color":"rgba(255,0,0,0)"},{"offset":0.53,"color":"#ff0000"},{"offset":0.54,"color":"rgba(255,0,0,0)"},{"offset":0.55,"color":"#ff0000"},{"offset":0.56,"color":"rgba(255,0,0,0)"},{"offset":0.57,"color":"#ff0000"},{"offset":0.58,"color":"rgba(255,0,0,0)"},{"offset":0.59,"color":"#ff0000"},{"offset":0.6,"color":"rgba(255,0,0,0)"},{"offset":0.61,"color":"#ff0000"},{"offset":0.62,"color":"rgba(255,0,0,0)"},{"offset":0.63,"color":"#ff0000"},{"offset":0.64,"color":"rgba(255,0,0,0)"},{"offset":0.65,"color":"#ff0000"},{"offset":0.66,"color":"rgba(255,0,0,0)"},{"offset":0.67,"color":"#ff0000"},{"offset":0.68,"color":"rgba(255,0,0,0)"},{"offset":0.69,"color":"#ff0000"},{"offset":0.7,"color":"rgba(255,0,0,0)"},{"offset":0.71,"color":"#ff0000"},{"offset":0.72,"color":"rgba(255,0,0,0)"},{"offset":0.73,"color":"#ff0000"},{"offset":0.74,"color":"rgba(255,0,0,0)"},{"offset":0.75,"color":"#ff0000"},{"offset":0.76,"color":"rgba(255,0,0,0)"},{"offset":0.77,"color":"#ff0000"},{"offset":0.78,"color":"rgba(255,0,0,0)"},{"offset":0.79,"color":"#ff0000"},{"offset":0.8,"color":"rgba(255,0,0,0)"},{"offset":0.81,"color":"#ff0000"},{"offset":0.82,"color":"rgba(255,0,0,0)"},{"offset":0.83,"color":"#ff0000"},{"offset":0.84,"color":"rgba(255,0,0,0)"},{"offset":0.85,"color":"#ff0000"},{"offset":0.86,"color":"rgba(255,0,0,0)"},{"offset":0.87,"color":"#ff0000"},{"offset":0.88,"color":"rgba(255,0,0,0)"},{"offset":0.89,"color":"#ff0000"},{"offset":0.9,"color":"rgba(255,0,0,0)"},{"offset":0.91,"color":"#ff0000"},{"offset":0.92,"color":"rgba(255,0,0,0)"},{"offset":0.93,"color":"#ff0000"},{"offset":0.94,"color":"rgba(255,0,0,0)"},{"offset":0.95,"color":"#ff0000"},{"offset":0.96,"color":"rgba(255,0,0,0)"},{"offset":0.97,"color":"#ff0000"},{"offset":0.98,"color":"rgba(255,0,0,0)"},{"offset":0.99,"color":"#ff0000"},{"offset":1,"color":"rgba(255,0,0,0)"}]}},
   "encoding":{
    "x":{"field":"m","type":"quantitative","scale":{"domain":[24,1136],"nice":false,"zero":false},"axis":{"tickCount":22,"tickSize":-2,"labels":false,"title":null}},
    "y":{"field":"bkg","type":"quantitative","stack":null,"scale":{"domain":[0,0.0094],"nice":false},"axis":{"tickCount":47,"tickSize":-2,"labels":false,"title":null}}}},
  {"mark":{"type":"line","interpolate":"step-after","stroke":"#0000ff","strokeWidth":2,"clip":true},
   "encoding":{
    "x":{"field":"m","type":"quantitative","scale":{"domain":[24,1136],"nice":false,"zero":false},"axis":{"orient":"top","values":[200,400,600,800,1000],"labels":false,"title":null}},
    "y":{"field":"sig","type":"quantitative","scale":{"domain":[0,0.0094],"nice":false},"axis":{"orient":"right","values":[0,0.001,0.002,0.003,0.004,0.005,0.006,0.007,0.008,0.009],"labels":false,"title":null}},
    "order":{"field":"i","type":"quantitative"}}},
  {"mark":{"type":"line","interpolate":"step-after","stroke":"#ff0000","strokeWidth":2,"clip":true},
   "encoding":{
    "x":{"field":"m","type":"quantitative","scale":{"domain":[24,1136],"nice":false,"zero":false},"axis":{"orient":"top","tickCount":22,"tickSize":-2,"labels":false,"title":null}},
    "y":{"field":"bkg","type":"quantitative","scale":{"domain":[0,0.0094],"nice":false},"axis":{"orient":"right","tickCount":47,"tickSize":-2,"labels":false,"title":null}},
    "order":{"field":"i","type":"quantitative"}}}
 ]
}
]
}
